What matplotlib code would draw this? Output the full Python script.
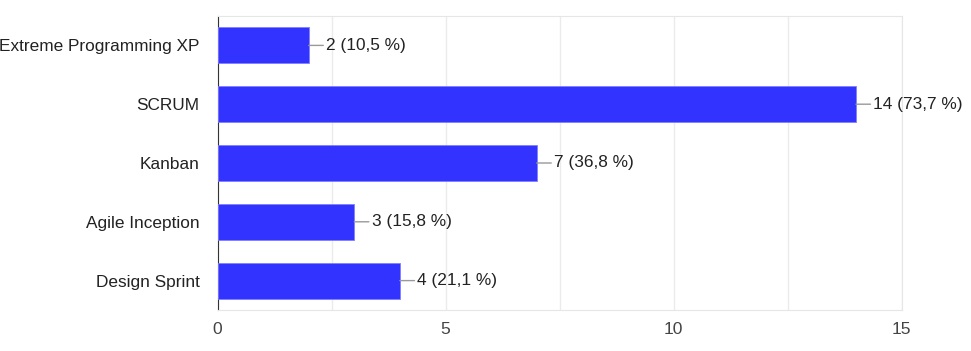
import matplotlib
matplotlib.use("Agg")
import matplotlib.pyplot as plt

categories = ["Extreme Programming XP", "SCRUM", "Kanban", "Agile Inception", "Design Sprint"]
counts = [2, 14, 7, 3, 4]
percents = ["10,5", "73,7", "36,8", "15,8", "21,1"]
xticks = [0, 5, 10, 15]

plt.rcParams['font.family'] = ['Liberation Sans', 'DejaVu Sans']

fig = plt.figure(figsize=(9.71, 3.51), dpi=100)
ax = fig.add_axes([217.5/971, 1-310/351, 684/971, 294/351])

ypos = list(range(len(categories)))
ax.barh(ypos, counts, height=0.615, color='#3333ff', edgecolor='#8080ff', linewidth=0.6, zorder=3)
ax.set_ylim(len(categories)-0.5, -0.5)
ax.set_xlim(0, 15)

for y, c, p in zip(ypos, counts, percents):
    ax.annotate(f"{c} ({p} %)", xy=(c, y), xytext=(12.5, 0), textcoords='offset points',
                va='center', ha='left', fontsize=12.4, color='#222222',
                arrowprops=dict(arrowstyle='-', color='#999999', lw=1, shrinkA=0, shrinkB=0))

ax.set_xticks(xticks)
ax.set_xticks([2.5, 7.5, 12.5], minor=True)
ax.grid(True, axis='x', which='both', color='#ebebeb', lw=1, zorder=0)
ax.set_yticks(ypos)
ax.set_yticklabels(categories, fontsize=12.4, color='#222222')
ax.tick_params(axis='both', which='both', length=0)
ax.tick_params(axis='x', pad=9, labelsize=12.6, labelcolor='#444444')
ax.tick_params(axis='y', pad=13)
for s in ['top', 'right', 'bottom']:
    ax.spines[s].set_color('#e6e6e6')
ax.spines['left'].set_color('#333333')

fig.savefig('out.png', dpi=100)
